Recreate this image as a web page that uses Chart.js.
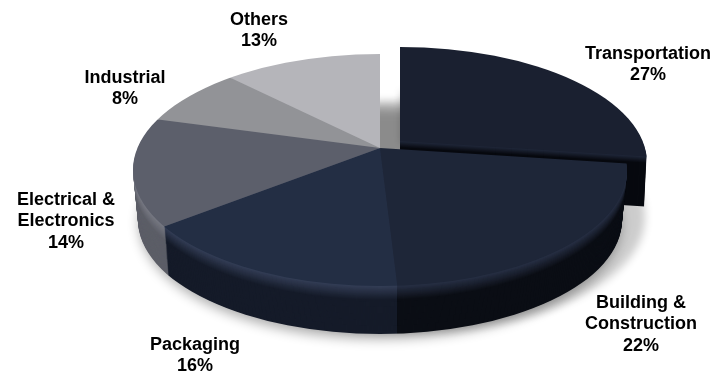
<!DOCTYPE html>
<html>
<head>
<meta charset="utf-8">
<style>html,body{margin:0;padding:0;background:#fff}canvas{display:block}</style>
<script src="https://cdn.jsdelivr.net/npm/chart.js@4/dist/chart.umd.min.js"></script>
</head>
<body>
<canvas id="c" width="716" height="374"></canvas>
<script>
const categories = [["Transportation"], ["Building &", "Construction"], ["Packaging"], ["Electrical &", "Electronics"], ["Industrial"], ["Others"]];
const shares = [27, 22, 16, 14, 8, 13];

const topColors = ["#1a2030", "#1e2638", "#232e44", "#5c5f6b", "#929397", "#b5b5ba"];
const rimColors = [[30,37,54], [38,46,66], [50,60,84], [118,120,130], [150,151,155], [185,185,190]];
const sideColors = [[7,9,15], [11,14,21], [21,27,41], [92,94,103], [110,110,115], [130,130,135]];
const labelAnchors = [[648,54],[641,303],[195,345],[66,200],[125,78],[259,20]];

const apex = {x:380, y:148}, rim = {x:380, y:170, rx:247, ry:116};
const reach = {x:300, y:150};
const depth = 50, lift = {x:20, y:-7};

function mix(a,b,t){return `rgb(${a.map((v,i)=>Math.round(v+(b[i]-v)*t)).join(",")})`;}

function paintArc(ctx, arc, fill){
  const a = Object.create(arc);
  a.options = Object.assign({}, arc.options, {backgroundColor: fill, borderWidth: 0});
  a.draw(ctx);
}

function paintLayer(ctx, arcs, idx, dx, dy, shrink, fills){
  ctx.save();
  ctx.beginPath();
  ctx.ellipse(rim.x+dx, rim.y+dy, rim.rx-shrink, rim.ry-shrink*0.4, 0, 0, Math.PI*2);
  ctx.clip();
  const p = arcs[0].getProps(["x","y","outerRadius"]);
  ctx.translate(apex.x+dx, apex.y+dy);
  ctx.scale(reach.x/p.outerRadius, reach.y/p.outerRadius);
  ctx.translate(-p.x, -p.y);
  idx.forEach(k => paintArc(ctx, arcs[k], fills(k)));
  ctx.restore();
}

function softShadow(ctx, path, blur, alpha, ox, oy){
  ctx.save();
  ctx.shadowColor = `rgba(0,0,0,${alpha})`;
  ctx.shadowBlur = blur;
  const far = 2000;
  ctx.shadowOffsetX = far*(ctx.getTransform().a) + ox;
  ctx.shadowOffsetY = oy;
  ctx.translate(-far,0);
  ctx.fillStyle = "#000";
  ctx.beginPath(); path(ctx); ctx.fill();
  ctx.restore();
}

const pie3d = {
  id:"pie3d",
  beforeDatasetsDraw(chart){
    const ctx = chart.ctx, arcs = chart.getDatasetMeta(0).data;
    const front = [5,4,3,2,1];
    softShadow(ctx, c=>c.ellipse(rim.x, rim.y+depth+3, rim.rx-6, rim.ry, 0,0,Math.PI*2), 12, .32, 0, 0);
    softShadow(ctx, c=>c.ellipse(rim.x+lift.x+3, rim.y+lift.y+depth+1, rim.rx-5, rim.ry, 0,0,Math.PI*2), 9, .2, 0, 3);
    softShadow(ctx, c=>c.rect(401,92,10,52), 9, .22, 0, 0);
    for(let i=depth;i>=0;i--){
      const t = Math.min(1,Math.max(0,(i-1)/6));
      paintLayer(ctx, arcs, [0], lift.x, lift.y+i, i*0.05, k=> i===0 ? topColors[k] : mix(rimColors[k],sideColors[k],t));
    }
    for(let i=depth;i>=0;i--){
      const t = Math.min(1,Math.max(0,(i-1)/14));
      paintLayer(ctx, arcs, front, 0, i, i*0.1, k=> i===0 ? topColors[k] : mix(rimColors[k],sideColors[k],t));
    }
    return false;
  },
  afterDraw(chart){
    const ctx = chart.ctx;
    ctx.save();
    ctx.font = "bold 18px 'Liberation Sans', Arial, sans-serif";
    ctx.fillStyle = "#000";
    ctx.textAlign = "center";
    ctx.textBaseline = "middle";
    categories.forEach((cat,k)=>{
      const lines = [...cat, shares[k]+"%"];
      lines.forEach((t,j)=>ctx.fillText(t, labelAnchors[k][0], labelAnchors[k][1]+j*21.5));
    });
    ctx.restore();
  }
};

new Chart(document.getElementById("c"),{
  type:"pie",
  data:{labels:categories.map(c=>c.join(" ")),datasets:[{data:shares,backgroundColor:topColors,borderWidth:0}]},
  options:{
    responsive:false,animation:false,
    layout:{padding:0},
    plugins:{legend:{display:false},title:{display:false},tooltip:{enabled:false}}
  },
  plugins:[pie3d]
});
</script>
</body>
</html>
